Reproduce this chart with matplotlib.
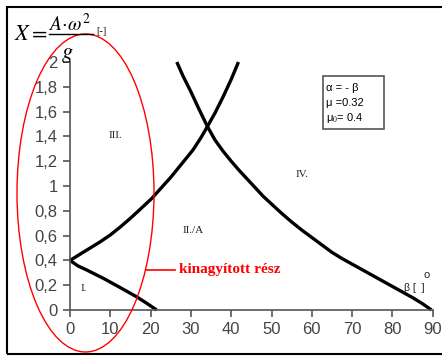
import numpy as np
import matplotlib
matplotlib.use('Agg')
import matplotlib.pyplot as plt
from matplotlib.patches import Ellipse, Rectangle
from matplotlib.ticker import FuncFormatter

plt.rcParams['font.family'] = ['Liberation Sans', 'DejaVu Sans']
plt.rcParams['mathtext.fontset'] = 'stix'

# curve I (lower boundary from 0.4 down to zero)
beta_1 = [0, 2, 4, 8.3, 12.5, 16.5, 19, 21.5]
x_1 = [0.4, 0.355, 0.325, 0.255, 0.18, 0.107, 0.055, 0.0]
# rising curve
beta_2 = [0, 2.5, 5, 7.5, 10, 12.5, 15, 17.5, 20.3, 22.5, 25, 27.5, 30.5, 32.5, 34.1, 36, 38, 40, 41.8]
x_2 = [0.4, 0.45, 0.5, 0.55, 0.605, 0.67, 0.74, 0.815, 0.9, 0.98, 1.07, 1.17, 1.29, 1.39, 1.48, 1.59, 1.72, 1.86, 2.0]
# falling curve
beta_3 = [26.5, 28, 30, 32, 34.1, 36, 38, 40, 42, 44, 46, 48, 50, 52.5, 55, 57.5, 60,
          62.5, 65, 67.5, 70, 72.5, 75, 77.5, 80, 82.5, 85, 87.5, 89.7]
x_3 = [2.0, 1.89, 1.76, 1.62, 1.48, 1.37, 1.28, 1.2, 1.125, 1.055, 0.985, 0.915, 0.855,
       0.78, 0.71, 0.645, 0.585, 0.525, 0.465, 0.415, 0.37, 0.325, 0.28, 0.235, 0.19,
       0.145, 0.1, 0.05, 0.0]

xticks = [0, 10, 20, 30, 40, 50, 60, 70, 80, 90]
yticks = [0, 0.2, 0.4, 0.6, 0.8, 1.0, 1.2, 1.4, 1.6, 1.8, 2.0]

W, H = 442.0, 356.0
def fx(px):
    return px / W
def fy(py):
    return 1 - py / H

fig = plt.figure(figsize=(4.42, 3.56), dpi=100)
ax = fig.add_axes([70/W, 46/H, 362.7/W, 248/H])

for b, xv in [(beta_1, x_1), (beta_2, x_2), (beta_3, x_3)]:
    ax.plot(b, xv, color='black', lw=2.4, clip_on=False, solid_capstyle='butt',
            solid_joinstyle='round')

ax.set_xlim(0, 90)
ax.set_ylim(0, 2)
ax.set_xticks(xticks)
ax.set_yticks(yticks)

def fmt(v, pos):
    s = ('%g' % v).replace('.', ',')
    return s
ax.yaxis.set_major_formatter(FuncFormatter(fmt))

for s in ['top', 'right']:
    ax.spines[s].set_visible(False)
for s in ['left', 'bottom']:
    ax.spines[s].set_color('#555555')
    ax.spines[s].set_linewidth(1.2)
ax.tick_params(direction='out', length=5, width=1.2, color='#555555',
               labelsize=12, labelcolor='#444444', pad=4)

# region labels
tf = dict(family='Liberation Serif', fontsize=8, color='#222222')
ax.text(9.5, 1.39, 'III.', **tf)
ax.text(28, 0.62, 'II./A', **tf)
ax.text(56, 1.07, 'IV.', **tf)
ax.text(2.7, 0.15, 'I.', **tf)
ax.text(83.0, 0.15, 'β [  ]', fontsize=7.5, color='#222222')
ax.text(87.6, 0.255, 'o', fontsize=8, color='#222222')

# parameter box
ax.add_patch(Rectangle((62.8, 1.46), 15.1, 0.427, fill=False, ec='#555555', lw=1.2,
                       clip_on=False))
params = ['α = - β', 'μ =0.32', 'μ$_{0}$= 0.4']
for i, t in enumerate(params):
    ax.text(63.6, 1.79 - i * 0.121, t, fontsize=8, va='center', ha='left')

# formula
fig.text(fx(14), fy(34), r'$X=$', fontsize=16, va='center', ha='left')
fig.text(fx(69), fy(31), r'$A\!\cdot\!\omega^{2}$', fontsize=14, va='baseline', ha='center')
fig.add_artist(plt.Line2D([fx(49), fx(93)], [fy(34), fy(34)], transform=fig.transFigure,
                          color='black', lw=1.0))
fig.text(fx(67), fy(58), r'$g$', fontsize=16, va='baseline', ha='center')
fig.text(fx(96), fy(31), '[-]', fontsize=7.5, family='Liberation Serif',
         va='center', ha='left')

# red ellipse and note
ell = Ellipse((fx(85.5), fy(193)), 137/W, 318/H, transform=fig.transFigure,
              fill=False, ec='red', lw=1.0, clip_on=False)
fig.add_artist(ell)
fig.add_artist(plt.Line2D([fx(146), fx(175)], [fy(270), fy(270)],
                          transform=fig.transFigure, color='red', lw=1.2))
fig.text(fx(179), fy(270), 'kinagyított rész', family='Liberation Serif',
         fontweight='bold', fontsize=11, color='red', va='center', ha='left')

# outer frame
fig.add_artist(Rectangle((7/W, 2/H), 440/W, 347/H, transform=fig.transFigure,
                         fill=False, ec='black', lw=1.5))

fig.savefig('out.png', dpi=100)
